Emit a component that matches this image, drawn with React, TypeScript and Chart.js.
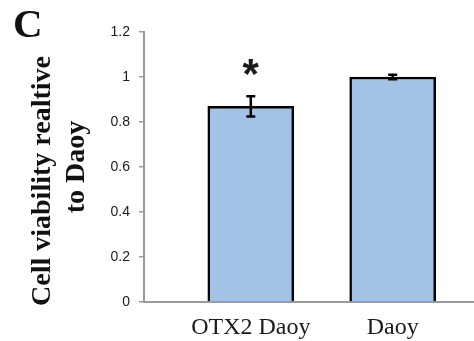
import React, { useEffect, useRef } from "react";
import { Chart, registerables } from "chart.js";

Chart.register(...registerables);

const categories: string[] = ["OTX2 Daoy", "Daoy"];
const viability: number[] = [0.87, 1.0];
const errors: number[] = [0.045, 0.01];
const significance: string[] = ["*", ""];
const yTicks: number[] = [0, 0.2, 0.4, 0.6, 0.8, 1, 1.2];
const panelLabel = "C";
const yTitle: string[] = ["Cell viability realtive    ", "to Daoy"];

const overlayPlugin = {
  id: "overlay",
  afterDatasetsDraw(chart: any) {
    const ctx = chart.ctx;
    const xs = chart.scales.x;
    const ys = chart.scales.y;
    ctx.save();
    // error bars
    ctx.strokeStyle = "#000";
    ctx.lineWidth = 2.5;
    viability.forEach((v, i) => {
      const x = xs.getPixelForValue(i + 1);
      const yTop = ys.getPixelForValue(v + errors[i]);
      const yBot = ys.getPixelForValue(v - errors[i]);
      const half = 4.5;
      ctx.beginPath();
      ctx.moveTo(x, yTop);
      ctx.lineTo(x, yBot);
      ctx.moveTo(x - half, yTop);
      ctx.lineTo(x + half, yTop);
      ctx.moveTo(x - half, yBot);
      ctx.lineTo(x + half, yBot);
      ctx.stroke();
    });
    // significance marks
    ctx.fillStyle = "#1a1a1a";
    ctx.font = "bold 42px 'Liberation Sans'";
    ctx.textAlign = "center";
    ctx.textBaseline = "middle";
    significance.forEach((s, i) => {
      if (!s) return;
      const x = xs.getPixelForValue(i + 1);
      const y = ys.getPixelForValue(viability[i] + errors[i]) - 20;
      ctx.fillText(s, x, y);
    });
    // panel label
    ctx.fillStyle = "#111";
    ctx.font = "bold 41px 'Liberation Serif'";
    ctx.textAlign = "left";
    ctx.textBaseline = "alphabetic";
    ctx.fillText(panelLabel, 13, 37);
    ctx.restore();
  },
};

export default function App() {
  const ref = useRef<HTMLCanvasElement>(null);
  useEffect(() => {
    document.body.style.margin = "0";
    const canvas = ref.current;
    if (!canvas) return;
    const chart = new Chart(canvas, {
      type: "bar",
      data: {
        datasets: [
          {
            data: categories.map((c, i) => ({ x: i + 1, y: viability[i] })),
            backgroundColor: "#A2C2E6",
            borderColor: "#000",
            borderWidth: 2.5,
            barThickness: 86,
          },
        ],
      },
      options: {
        responsive: false,
        animation: false,
        layout: { padding: { top: 32, left: 0, right: 0, bottom: 0 } },
        plugins: { legend: { display: false }, tooltip: { enabled: false } },
        scales: {
          x: {
            type: "linear",
            offset: false,
            bounds: "data",
            min: 0.2474,
            max: 2.573,
            afterFit: (s: any) => {
              s.height = 39;
            },
            afterBuildTicks: (s: any) => {
              s.ticks = categories.map((c, i) => ({ value: i + 1 }));
            },
            grid: { display: false, drawTicks: false, offset: false },
            border: { display: true, color: "#9a9a9a", width: 2 },
            ticks: {
              autoSkip: false,
              maxRotation: 0,
              padding: 11,
              color: "#1a1a1a",
              font: { family: "'Liberation Serif'", size: 24 },
              callback: (v: any) => categories[Math.round(Number(v)) - 1] ?? "",
            },
          },
          y: {
            min: 0,
            max: 1.2,
            afterFit: (s: any) => {
              s.width = 144;
            },
            afterBuildTicks: (s: any) => {
              s.ticks = yTicks.map((v) => ({ value: v }));
            },
            grid: {
              display: true,
              drawOnChartArea: false,
              drawTicks: true,
              tickLength: 5,
              color: "#9a9a9a",
              lineWidth: 1.5,
            },
            border: { display: true, color: "#9a9a9a", width: 2 },
            ticks: {
              padding: 9,
              color: "#1a1a1a",
              font: { family: "'Liberation Sans'", size: 14 },
              callback: (v: any) => String(Math.round(Number(v) * 10) / 10),
            },
            title: {
              display: true,
              text: yTitle,
              color: "#111",
              padding: { top: 26, bottom: 0 },
              font: { family: "'Liberation Serif'", size: 28, weight: "bold", lineHeight: 1.21 },
            },
          },
        },
      },
      plugins: [overlayPlugin],
    });
    return () => chart.destroy();
  }, []);
  return (
    <div style={{ width: 474, height: 341 }}>
      <canvas ref={ref} width={474} height={341} style={{ display: "block" }} />
    </div>
  );
}
